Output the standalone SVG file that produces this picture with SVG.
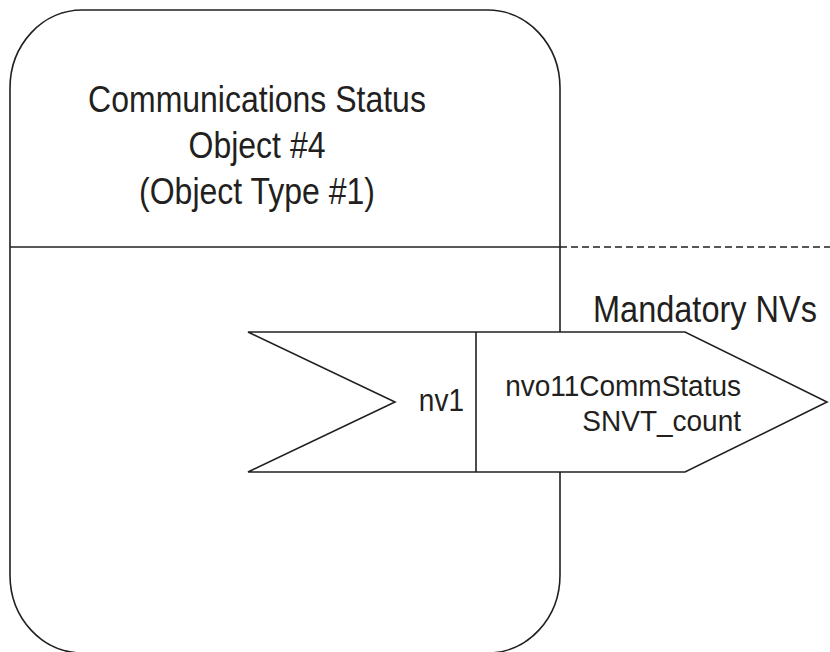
<svg xmlns="http://www.w3.org/2000/svg" width="830" height="652" viewBox="0 0 830 652">
  <style>
    .ln { fill: none; stroke: #231f20; stroke-width: 1.6; }
    .shape { fill: #ffffff; stroke: #231f20; stroke-width: 1.6; stroke-linejoin: miter; }
    .dash { fill: none; stroke: #231f20; stroke-width: 1.6; stroke-dasharray: 7 4; }
    .t { font-family: "Liberation Sans", Arial, Helvetica, sans-serif; fill: #231f20; }
    .title { font-size: 32px; text-anchor: middle; }
    .lbl { font-size: 32.5px; }
    .nv { font-size: 28px; text-anchor: end; }
  </style>
  <rect width="830" height="652" fill="#ffffff"/>
  <g id="object4">
    <rect class="ln" x="10" y="10" width="550" height="643" rx="72" ry="78"/>
    <line class="ln" x1="10" y1="247" x2="560" y2="247"/>
    <text class="t title" transform="translate(257,112) scale(1,1.15)">Communications Status</text>
    <text class="t title" transform="translate(257,158) scale(1,1.15)">Object #4</text>
    <text class="t title" transform="translate(257,204) scale(1,1.15)">(Object Type #1)</text>
  </g>
  <g id="connectors">
    <line class="dash" x1="560" y1="247" x2="830" y2="247"/>
  </g>
  <g id="mandatory-nvs">
    <text class="t lbl" transform="translate(593,322) scale(1,1.12)">Mandatory NVs</text>
  </g>
  <g id="nv1">
    <polygon class="shape" points="248,332 685,332 827,402 685,472 248,472 395,402"/>
    <line class="ln" x1="476" y1="332" x2="476" y2="472"/>
    <text class="t nv" font-size="25.5" transform="translate(464,411) scale(1,1.1)">nv1</text>
    <text class="t nv" transform="translate(741,396) scale(1,1.05)">nvo11CommStatus</text>
    <text class="t nv" transform="translate(741,431) scale(1,1.05)">SNVT_count</text>
  </g>
</svg>
